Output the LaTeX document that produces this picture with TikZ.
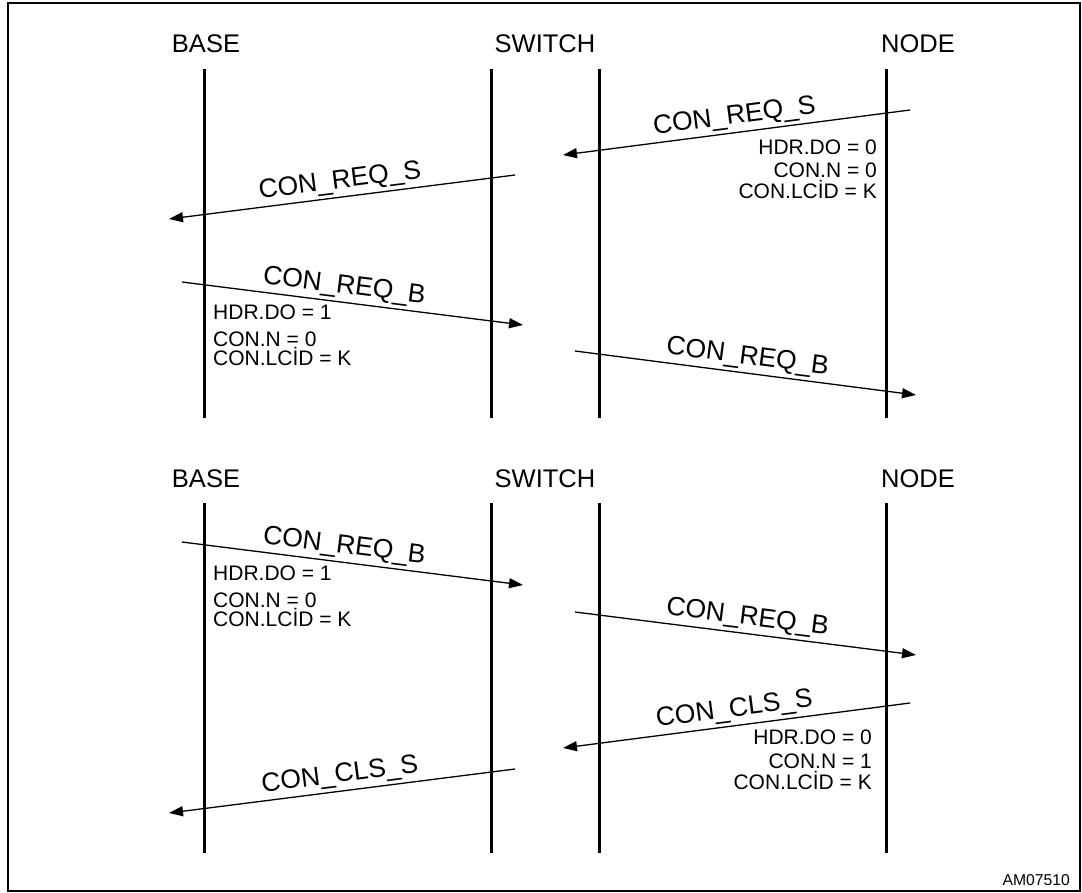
\documentclass[tikz,border=0pt]{standalone}
\usepackage{fontspec}
\setmainfont{Liberation Sans}
\usetikzlibrary{arrows.meta}

\begin{document}
\begin{tikzpicture}[
            x=1pt, y=-1pt,
            head/.style={font=\fontsize{25.5}{30}\selectfont, anchor=base, inner sep=0pt},
            life/.style={line width=3pt},
            msg/.style={-{Triangle[length=14pt, width=10pt]}, line width=1.3pt},
            msglabel/.style={font=\fontsize{26.5}{30}\selectfont, sloped, above, inner sep=3pt},
            paramr/.style={font=\fontsize{21}{24}\selectfont, anchor=base east, inner sep=0pt},
            paraml/.style={font=\fontsize{21}{24}\selectfont, anchor=base west, inner sep=0pt}
        ]
            % Frame
            \useasboundingbox (0,0) rectangle (1082,893);
            \draw[line width=2pt] (8,3) rectangle (1080,891);

            % Headers
            \node[head] (base1) at (206,53) {BASE};
            \node[head] (switch1) at (545,53) {SWITCH};
            \node[head] (node1) at (918,53) {NODE};
            \node[head] (base2) at (206,487) {BASE};
            \node[head] (switch2) at (545,487) {SWITCH};
            \node[head] (node2) at (918,487) {NODE};

            % Lifelines
            \coordinate (btop1) at (204,69);   \coordinate (bbot1) at (204,418);
            \coordinate (sltop1) at (491,69);  \coordinate (slbot1) at (491,418);
            \coordinate (srtop1) at (599,69);  \coordinate (srbot1) at (599,418);
            \coordinate (ntop1) at (886,69);   \coordinate (nbot1) at (886,418);
            \coordinate (btop2) at (204,503);  \coordinate (bbot2) at (204,853);
            \coordinate (sltop2) at (491,503); \coordinate (slbot2) at (491,853);
            \coordinate (srtop2) at (599,503); \coordinate (srbot2) at (599,853);
            \coordinate (ntop2) at (886,503);  \coordinate (nbot2) at (886,853);
            \draw[life] (btop1) -- (bbot1);
            \draw[life] (sltop1) -- (slbot1);
            \draw[life] (srtop1) -- (srbot1);
            \draw[life] (ntop1) -- (nbot1);
            \draw[life] (btop2) -- (bbot2);
            \draw[life] (sltop2) -- (slbot2);
            \draw[life] (srtop2) -- (srbot2);
            \draw[life] (ntop2) -- (nbot2);

            % Message ends
            \coordinate (m1a) at (910,110); \coordinate (m1b) at (563,155);
            \coordinate (m2a) at (515,175); \coordinate (m2b) at (169,219);
            \coordinate (m3a) at (182,282); \coordinate (m3b) at (523,325);
            \coordinate (m4a) at (575,351); \coordinate (m4b) at (916,395);
            \coordinate (m5a) at (182,542); \coordinate (m5b) at (523,585);
            \coordinate (m6a) at (575,612); \coordinate (m6b) at (916,655);
            \coordinate (m7a) at (910,703); \coordinate (m7b) at (563,748);
            \coordinate (m8a) at (515,769); \coordinate (m8b) at (169,813);

            % Arrows
            \draw[msg] (m1a) -- node[msglabel] {CON\_REQ\_S} (m1b);
            \draw[msg] (m2a) -- node[msglabel] {CON\_REQ\_S} (m2b);
            \draw[msg] (m3a) -- node[msglabel, pos=0.47] {CON\_REQ\_B} (m3b);
            \draw[msg] (m4a) -- node[msglabel] {CON\_REQ\_B} (m4b);
            \draw[msg] (m5a) -- node[msglabel, pos=0.47] {CON\_REQ\_B} (m5b);
            \draw[msg] (m6a) -- node[msglabel] {CON\_REQ\_B} (m6b);
            \draw[msg] (m7a) -- node[msglabel] {CON\_CLS\_S} (m7b);
            \draw[msg] (m8a) -- node[msglabel] {CON\_CLS\_S} (m8b);

            % Parameters
            \node[paramr] (p1do) at (877,155) {HDR.DO = 0};
            \node[paramr] (p1n) at (877,178) {CON.N = 0};
            \node[paramr] (p1id) at (877,199) {CON.LCİD = K};
            \node[paraml] (p3do) at (213,320) {HDR.DO = 1};
            \node[paraml] (p3n) at (213,347) {CON.N = 0};
            \node[paraml] (p3id) at (213,366) {CON.LCİD = K};
            \node[paraml] (p5do) at (213,580) {HDR.DO = 1};
            \node[paraml] (p5n) at (213,607) {CON.N = 0};
            \node[paraml] (p5id) at (213,626) {CON.LCİD = K};
            \node[paramr] (p7do) at (872,744) {HDR.DO = 0};
            \node[paramr] (p7n) at (872,768) {CON.N = 1};
            \node[paramr] (p7id) at (872,789) {CON.LCİD = K};

            % Figure code
            \node[font=\fontsize{15.7}{18}\selectfont, anchor=base east, inner sep=0pt] (figid) at (1070,885) {AM07510};
        \end{tikzpicture}
\end{document}
